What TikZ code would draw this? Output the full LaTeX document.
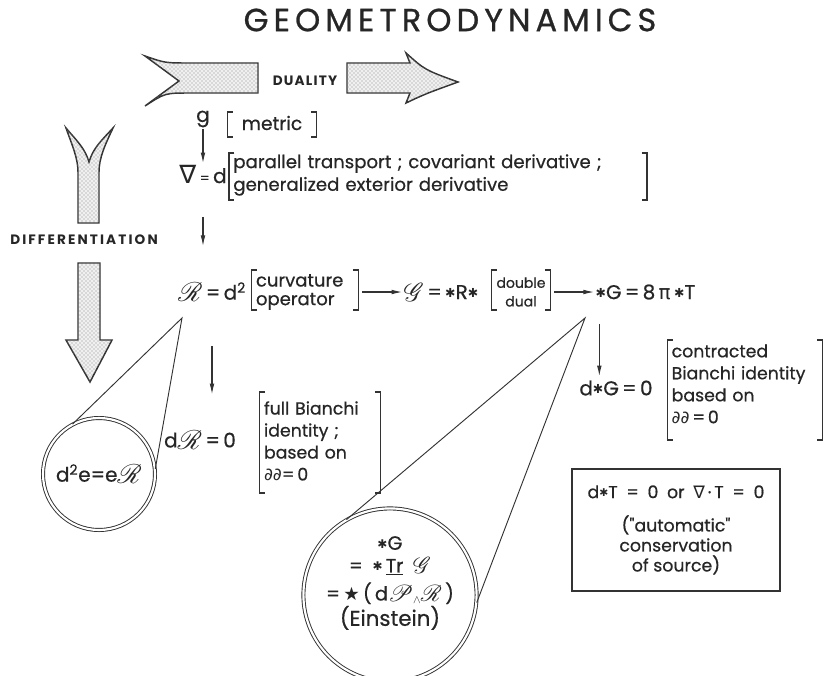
\documentclass[tikz,border=0pt]{standalone}
\usepackage{fontspec}
\usepackage{mathrsfs}
\usetikzlibrary{patterns,arrows.meta}
\setmainfont{Poppins}[FakeBold=0.6]
\newfontfamily\wfont{Poppins}[FakeBold=0.6]
\newfontfamily\titlefont{Poppins}[FakeBold=0.8]
\newfontfamily\labfont{Poppins}
\newfontfamily\sym{DejaVu Sans}
\newcommand\hast{{\sym\raisebox{0.08em}{\scalebox{0.62}{✱}}}}
\newcommand\sR{\raisebox{-0.1em}{\scalebox{1.4}{$\mathscr{R}$}}}
\newcommand\sG{\raisebox{-0.1em}{\scalebox{1.35}{$\mathscr{G}$}}}
\newcommand\cR{\raisebox{-0.05em}{\scalebox{1.2}{$\mathscr{R}$}}}
\newcommand\cG{\raisebox{-0.05em}{\scalebox{1.2}{$\mathscr{G}$}}}
\newcommand\cP{\raisebox{-0.05em}{\scalebox{1.2}{$\mathscr{P}$}}}
\newcommand\drawbrk[3]{\draw[brkline] ([xshift=4pt]#1.west |- 0,#2) -- (#1.west |- 0,#2) -- (#1.west |- 0,#3) -- ([xshift=4pt]#1.west |- 0,#3) ([xshift=-4pt]#1.east |- 0,#2) -- (#1.east |- 0,#2) -- (#1.east |- 0,#3) -- ([xshift=-4pt]#1.east |- 0,#3);}
\begin{document}
\begin{tikzpicture}[x=0.75pt,y=-0.75pt,
  every node/.style={text=black!85},
  titlef/.style={font=\titlefont\fontsize{24}{28}\selectfont},
  lab/.style={font=\labfont\bfseries\fontsize{10.2}{12}\selectfont},
  eq/.style={font=\fontsize{15}{18}\selectfont, inner sep=1pt},
  brk/.style={inner xsep=3pt, inner ysep=0pt},
  brkline/.style={draw=black!80, line width=0.9pt},
  arr/.style={draw=black!80, line width=0.8pt, -{Latex[length=8pt,width=3.5pt]}},
  stip/.style={draw=black!80, line width=1.1pt, fill=gray!12, postaction={pattern=crosshatch dots, pattern color=black!45}},
  circ/.style={circle, draw=black!80, double, double distance=1.6pt, line width=0.7pt, inner sep=0pt, align=center},
  cone/.style={draw=black!80, line width=0.7pt},
  box/.style={draw=black!80, line width=0.9pt, align=center, font=\wfont\fontsize{13}{15}\selectfont}
]
\useasboundingbox (0,0) rectangle (827,675);

% title
\node[titlef] (title) at (450,20) {G\kern3.8pt E\kern3.8pt O\kern3.8pt M\kern3.8pt E\kern3.8pt T\kern3.8pt R\kern3.8pt O\kern3.8pt D\kern3.8pt Y\kern3.8pt N\kern3.8pt A\kern3.8pt M\kern3.8pt I\kern3.8pt C\kern3.8pt S};

% duality arrow
\draw[stip] (145,56) .. controls (165,63) .. (190,63) -- (258,63) -- (258,93) -- (190,93) .. controls (165,93) .. (145,106) -- (179,81) -- cycle;
\draw[stip] (347,63) -- (410,63) -- (406,53) .. controls (425,70) .. (458,82) .. controls (425,94) .. (406,103) -- (410,93) -- (347,93) -- cycle;
\node[lab] (dual) at (305,81) {D\kern0.9pt U\kern0.9pt A\kern0.9pt L\kern0.9pt I\kern0.9pt T\kern0.9pt Y};

% differentiation arrows
\draw[stip] (66,128) .. controls (72,145) and (78,158) .. (78,172) -- (78,223) -- (99,223) -- (99,172) .. controls (99,158) and (105,145) .. (113,128) .. controls (102,140) and (93,148) .. (89,162) .. controls (85,148) and (76,140) .. (66,128) -- cycle;
\node[lab] (diff) at (84,240) {D\kern1.6pt I\kern1.6pt F\kern1.6pt F\kern1.6pt E\kern1.6pt R\kern1.6pt E\kern1.6pt N\kern1.6pt T\kern1.6pt I\kern1.6pt A\kern1.6pt T\kern1.6pt I\kern1.6pt O\kern1.6pt N};
\draw[stip] (78,263) -- (100,263) -- (100,340) -- (112,340) -- (90,382) -- (66,340) -- (78,340) -- cycle;

% metric rows
\node[eq] (g) at (203,119) {g};
\node[brk, text width=60.75pt, align=center, font=\wfont\fontsize{14}{16}\selectfont] (met) at (272,123) {metric};
\drawbrk{met}{112}{137}
\node[eq] (nab) at (203,174) {{\sym\fontsize{19}{20}\selectfont ∇}\,{\scalebox{0.7}{=}}\,d};
\node[brk, text width=307pt, align=left, font=\wfont\fontsize{13.6}{17}\selectfont] (pt) at (438,175) {parallel transport ; covariant derivative ;\\generalized exterior derivative};
\drawbrk{pt}{153}{200}
\draw[arr] (g.south) -- (g.south |- nab.north);

% curvature row
\node[eq] (R) at (212,292) {\sR\,=\,d\textsuperscript{2}};
\draw[arr, shorten <=24pt, shorten >=26pt] (nab.south) -- (nab.south |- R.north);
\node[brk, text width=73.5pt, align=left, font=\wfont\fontsize{13.5}{14}\selectfont] (curv) at (305,292) {curvature\\operator};
\drawbrk{curv}{270}{310}
\node[eq] (G) at (441,292) {\sG\,=\,\hast R\hast};
\node[brk, text width=37.5pt, align=center, font=\fontsize{10.5}{14}\selectfont] (dd) at (521,292) {double\\dual};
\drawbrk{dd}{270}{310}
\node[eq, anchor=west] (E) at (594,292) {\hast G\,=\,8\,{\sym π}\,\hast T};
\draw[arr, shorten <=3pt] (curv.east) -- (G.west);
\draw[arr, shorten <=3pt] (dd.east) -- (E.west);

% Bianchi
\node[eq] (dR) at (200,440) {d\sR\,=\,0};
\draw[arr, shorten <=32pt, shorten >=26pt] (R.south) -- (R.south |- dR.north);
\node[brk, text width=84pt, align=left, font=\wfont\fontsize{13}{16.5}\selectfont] (fb) at (320,441) {full Bianchi\\identity ;\\based on\\{\sym ∂∂}=\,0};
\drawbrk{fb}{392}{493}

\node[eq] (dG) at (616,388) {d\hast G\,=\,0};
\draw[arr, shorten <=17pt, shorten >=2pt] ([xshift=4pt]E.south west) -- ([xshift=4pt]E.south west |- dG.north);
\node[brk, text width=110pt, align=left, font=\wfont\fontsize{13}{16.5}\selectfont] (cb) at (745,384) {contracted\\Bianchi identity\\based on\\{\sym ∂∂}\,=\,0};
\drawbrk{cb}{340}{440}

% conservation box
\node[box, minimum width=156pt, minimum height=91.5pt] (cons) at (676,530) {d\hast T\enspace=\enspace0\enspace or\enspace{\sym ∇}\,·\,T\enspace=\enspace0\\[10pt]("automatic"\\conservation\\of source)};

% magnifier circles
\node[circ, minimum size=84pt, font=\fontsize{15}{18}\selectfont] (c1) at (99,474) {d\textsuperscript{2}e=e\sR};
\coordinate (ap1) at (182,318);
\draw[cone] (c1.118) -- (ap1) -- (c1.5);

\node[circ, minimum size=112.5pt, font=\fontsize{14.5}{18}\selectfont] (c2) at (390,595) {\hast G\\[-1pt]=\enspace\hast\,\underline{Tr}\enspace\cG\\[3pt]=\,{\sym\scalebox{0.95}{★}}\,(\,d\cP\raisebox{-0.15em}{\scalebox{0.6}{$\wedge$}}\cR\,)\\[1pt]{\fontsize{16}{20}\selectfont (Einstein)}\\[3pt]};
\coordinate (ap2) at (585,318);
\draw[cone] (c2.120) -- (ap2) -- (c2.-5);
\end{tikzpicture}
\end{document}
